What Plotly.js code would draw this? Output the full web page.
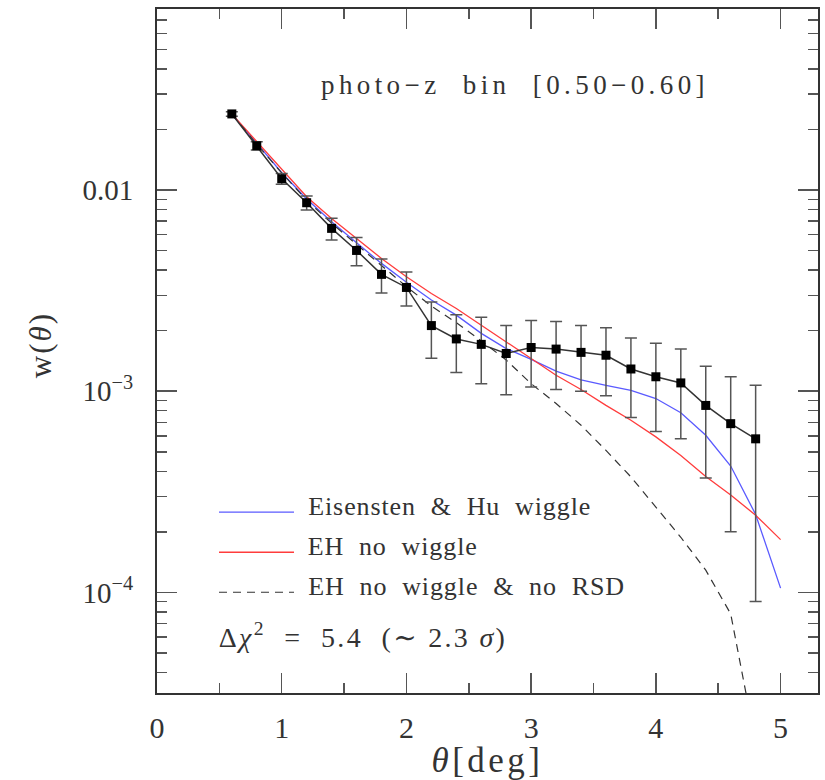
<!DOCTYPE html>
<html>
<head>
<meta charset="utf-8">
<script src="https://cdn.plot.ly/plotly-3.0.1.min.js"></script>
<style>
html,body{margin:0;padding:0;background:#fff;}
#chart{width:825px;height:780px;}
#chart g.annotation[data-index="0"] text{letter-spacing:4.4px;}
#chart g.annotation[data-index="1"] text,
#chart g.annotation[data-index="2"] text,
#chart g.annotation[data-index="3"] text{letter-spacing:0.9px;}
#chart g.annotation[data-index="4"] text{letter-spacing:2.3px;}
#chart g.annotation[data-index="5"] text{letter-spacing:2px;}
#chart text.xtitle{letter-spacing:3.5px;}
</style>
</head>
<body>
<div id="chart"></div>
<script>
// theta [deg]
const thetaData = [0.6,0.8,1.0,1.2,1.4,1.6,1.8,2.0,2.2,2.4,2.6,2.8,3.0,3.2,3.4,3.6,3.8,4.0,4.2,4.4,4.6,4.8];
const wData = [0.0239,0.0166,0.01138,0.00865,0.00645,0.00501,0.00381,0.00328,0.00212,0.00182,0.00171,0.00154,0.00165,0.00162,0.00156,0.00151,0.00129,0.00118,0.00110,0.00085,0.00069,0.00058];
const wErr = [0.0006,0.0008,0.0007,0.0007,0.0008,0.0008,0.00073,0.00063,0.00066,0.00058,0.00062,0.00058,0.0006,0.0006,0.00056,0.00056,0.00055,0.00055,0.00052,0.00048,0.00049,0.00049];

const thetaModel = [0.6,0.8,1.0,1.2,1.4,1.6,1.8,2.0,2.2,2.4,2.6,2.8,3.0,3.2,3.4,3.6,3.8,4.0,4.2,4.4,4.6,4.8,5.0];
const ehWiggle = [0.02388,0.01714,0.01219,0.00902,0.00695,0.00547,0.00432,0.00348,0.00284,0.00239,0.00194,0.00163,0.00144,0.00126,0.00114,0.00107,0.00101,0.000920,0.000782,0.000604,0.000425,0.000244,0.000105];
const ehNoWiggle = [0.02388,0.01738,0.01259,0.00927,0.00723,0.00575,0.00457,0.00371,0.00306,0.00258,0.00213,0.00176,0.00144,0.00120,0.00102,0.000851,0.000718,0.000593,0.000479,0.000377,0.000305,0.000242,0.000183];
const thetaNoRSD = [0.6,0.8,1.0,1.2,1.4,1.6,1.8,2.0,2.2,2.4,2.6,2.8,3.0,3.2,3.4,3.6,3.8,4.0,4.2,4.4,4.6,4.8];
const ehNoRSD = [0.02388,0.01690,0.01216,0.00891,0.00684,0.00537,0.00417,0.00331,0.00265,0.00219,0.00178,0.00143,0.00109,0.000869,0.000678,0.000508,0.000375,0.000265,0.000188,0.000129,0.0000782,0.0000178];

const yTickVals = [1e-4,1e-3,1e-2];
const yTickText = ['10<sup>\u22124</sup>','10<sup>\u22123</sup>','0.01'];
const legendLabels = ['Eisensten\u00a0 &\u00a0 Hu\u00a0 wiggle','EH\u00a0 no\u00a0 wiggle','EH\u00a0 no\u00a0 wiggle\u00a0 &\u00a0 no\u00a0 RSD'];
const binLabel = 'photo\u2212z\u00a0 bin\u00a0 [0.50\u22120.60]';
const chiLabel = '\u0394<i>\u03c7</i><sup>2</sup>\u00a0 =\u00a0 5.4\u00a0 (\u223c 2.3 <i>\u03c3</i>)';
const xTitle = '<i>\u03b8</i>[deg]';
const yTitle = 'w(<i>\u03b8</i>)';

const FONT = 'Liberation Serif, DejaVu Serif, serif';
const TXT = '#333';

const traces = [
  {x: thetaModel, y: ehWiggle, mode:'lines', line:{color:'#5a5aff', width:1.3}, hoverinfo:'skip'},
  {x: thetaModel, y: ehNoWiggle, mode:'lines', line:{color:'#ff3c3c', width:1.3}, hoverinfo:'skip'},
  {x: thetaNoRSD, y: ehNoRSD, mode:'lines', line:{color:'#333', width:1.2, dash:'8px,6px'}, hoverinfo:'skip'},
  {x: thetaData, y: wData, mode:'lines+markers',
   line:{color:'#333', width:1.5},
   marker:{symbol:'square', size:9, color:'#000'},
   error_y:{type:'data', array:wErr, visible:true, color:'#555', thickness:1.5, width:6}}
];

const lg = (px)=> (692.7-px)/683.7;
const lx = (px)=> (px-157)/661;
// CSS letter-spacing widens text symmetrically about the measured centre;
// shift left-anchored texts by half the added width so they start where intended.
const nChars = (t)=> t.replace(/<[^>]+>/g,'').length;
const leftX = (px, t, s)=> lx(px + nChars(t)*s/2);

const layout = {
  width:825, height:780,
  margin:{l:157, r:7, t:9, b:87},
  paper_bgcolor:'#fff', plot_bgcolor:'#fff',
  showlegend:false,
  font:{family:FONT, color:TXT},
  xaxis:{
    range:[0,5.3], dtick:1, tick0:0,
    ticks:'inside', ticklen:20, tickwidth:1.5, tickcolor:'#555',
    minor:{dtick:0.5, ticks:'inside', ticklen:10, tickwidth:1.5, tickcolor:'#555'},
    showline:true, linecolor:'#333', linewidth:2, mirror:'ticks',
    showgrid:false, zeroline:false,
    tickfont:{size:30, family:FONT, color:TXT},
    ticklabelstandoff:7,
    title:{text:xTitle, font:{size:35, family:FONT, color:TXT}, standoff:3}
  },
  yaxis:{
    type:'log', range:[-4.5,-1.1],
    tickvals:yTickVals, ticktext:yTickText,
    ticks:'inside', ticklen:20, tickwidth:1.5, tickcolor:'#555',
    minor:{dtick:'D1', ticks:'inside', ticklen:10, tickwidth:1.5, tickcolor:'#555', showgrid:false},
    showline:true, linecolor:'#333', linewidth:2, mirror:'ticks',
    showgrid:false, zeroline:false,
    tickfont:{size:29, family:FONT, color:TXT},
    ticklabelstandoff:16
  },
  shapes:[
    {type:'line', xref:'paper', yref:'paper', x0:lx(219), x1:lx(294), y0:lg(512), y1:lg(512), line:{color:'#5a5aff', width:1.3}},
    {type:'line', xref:'paper', yref:'paper', x0:lx(219), x1:lx(294), y0:lg(552), y1:lg(552), line:{color:'#ff3c3c', width:1.3}},
    {type:'line', xref:'paper', yref:'paper', x0:lx(219), x1:lx(294), y0:lg(592), y1:lg(592), line:{color:'#333', width:1.2, dash:'8px,6px'}}
  ],
  annotations:[
    {xref:'paper', yref:'paper', x:lx(515), y:lg(85), xanchor:'center', yanchor:'middle', showarrow:false,
     text:binLabel, font:{size:27, family:FONT, color:TXT}},
    {xref:'paper', yref:'paper', x:leftX(306, legendLabels[0], 0.9), y:lg(506), xanchor:'left', yanchor:'middle', showarrow:false,
     text:legendLabels[0], font:{size:26, family:FONT, color:TXT}},
    {xref:'paper', yref:'paper', x:leftX(306, legendLabels[1], 0.9), y:lg(546), xanchor:'left', yanchor:'middle', showarrow:false,
     text:legendLabels[1], font:{size:26, family:FONT, color:TXT}},
    {xref:'paper', yref:'paper', x:leftX(306, legendLabels[2], 0.9), y:lg(586), xanchor:'left', yanchor:'middle', showarrow:false,
     text:legendLabels[2], font:{size:26, family:FONT, color:TXT}},
    {xref:'paper', yref:'paper', x:leftX(217, chiLabel, 2.3), y:lg(635), xanchor:'left', yanchor:'middle', showarrow:false,
     text:chiLabel, font:{size:28, family:FONT, color:TXT}},
    {xref:'paper', yref:'paper', x:lx(40), y:lg(345), xanchor:'center', yanchor:'middle', showarrow:false, textangle:-90,
     text:yTitle, font:{size:31, family:FONT, color:TXT}}
  ]
};

Plotly.newPlot('chart', traces, layout, {displayModeBar:false, staticPlot:true});
</script>
</body>
</html>
